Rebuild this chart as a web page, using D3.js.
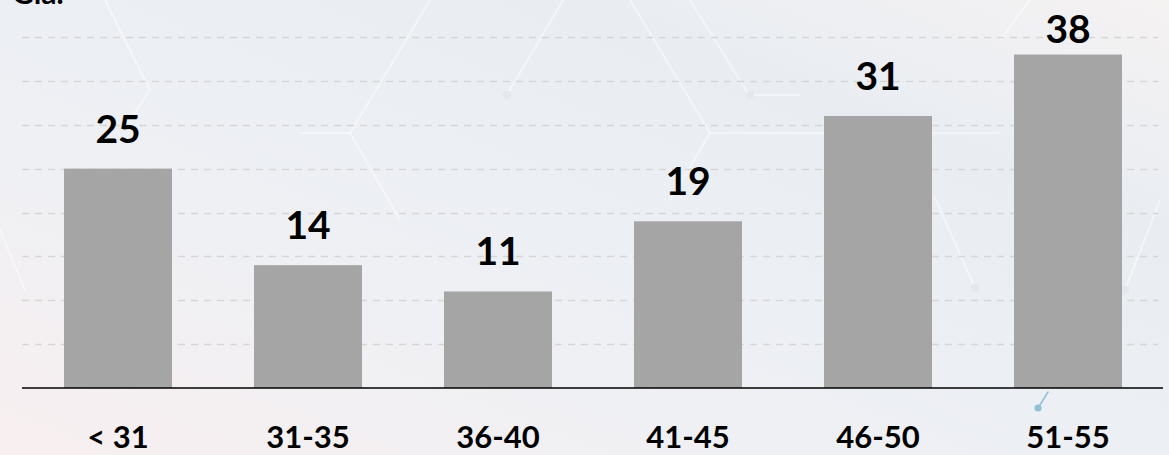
<!DOCTYPE html>
<html>
<head>
<meta charset="utf-8">
<script src="https://cdn.jsdelivr.net/npm/d3@7/dist/d3.min.js"></script>
<style>
  html, body { margin: 0; padding: 0; }
  body { width: 1169px; height: 455px; overflow: hidden; }
  svg { display: block; }
</style>
</head>
<body>
<svg id="chart" width="1169" height="455"></svg>
<script>
const categories = ["< 31", "31-35", "36-40", "41-45", "46-50", "51-55"];
const values = [25, 14, 11, 19, 31, 38];
const gridTicks = [5, 10, 15, 20, 25, 30, 35, 40];

const W = 1169, H = 455;
const svg = d3.select("#chart");
const font = "Lato, 'Open Sans', 'DejaVu Sans', sans-serif";

// background
const defs = svg.append("defs");
const bg = defs.append("linearGradient").attr("id", "bg")
  .attr("x1", "0").attr("y1", "1").attr("x2", "1").attr("y2", "0");
bg.append("stop").attr("offset", "0%").attr("stop-color", "#f8eff0");
bg.append("stop").attr("offset", "35%").attr("stop-color", "#eef0f4");
bg.append("stop").attr("offset", "75%").attr("stop-color", "#e9edf2");
bg.append("stop").attr("offset", "100%").attr("stop-color", "#f5f2f2");
svg.append("rect").attr("width", W).attr("height", H).attr("fill", "url(#bg)");

// faint decorative hexagon lines
const deco = svg.append("g").attr("fill", "none").attr("stroke-linecap", "round");
const decoLines = [
  [[430, 0], [350, 133], [300, 133]],
  [[350, 133], [400, 220]],
  [[563, 0], [507, 95]],
  [[630, 0], [710, 133], [1000, 133]],
  [[690, 0], [749, 95], [800, 95]],
  [[710, 133], [670, 200]],
  [[935, 198], [975, 288]],
  [[1160, 200], [1125, 290]],
  [[1030, 0], [1000, 40]],
  [[105, 0], [150, 90], [130, 120]],
  [[0, 230], [25, 290]]
];
decoLines.forEach(pts => {
  deco.append("path").attr("d", d3.line()(pts))
    .attr("stroke", "#ffffff").attr("stroke-opacity", 0.45).attr("stroke-width", 2);
});
[[507, 95], [750, 95], [975, 288], [1125, 290]].forEach(p => {
  deco.append("circle").attr("cx", p[0]).attr("cy", p[1]).attr("r", 4)
    .attr("fill", "#e2e8ee").attr("stroke", "none");
});
deco.append("path").attr("d", d3.line()([[1048, 392], [1040, 405]]))
  .attr("stroke", "#8fc0d6").attr("stroke-width", 1.5);
deco.append("circle").attr("cx", 1038).attr("cy", 408).attr("r", 3.5)
  .attr("fill", "#8fc0d6").attr("stroke", "none");

const x = d3.scaleBand().domain(categories).range([23, 1163])
  .paddingInner(0.4316).paddingOuter(0.2158);
const y = d3.scaleLinear().domain([0, 40]).range([388, 37]);

// gridlines
svg.append("g").selectAll("line").data(gridTicks).join("line")
  .attr("x1", 22).attr("x2", 1158)
  .attr("y1", d => Math.round(y(d)) + 0.5).attr("y2", d => Math.round(y(d)) + 0.5)
  .attr("stroke", "#d6d6d6").attr("stroke-width", 1.3)
  .attr("stroke-dasharray", "7,6");

// bars
svg.append("g").selectAll("rect").data(values).join("rect")
  .attr("x", (d, i) => x(categories[i]))
  .attr("width", x.bandwidth())
  .attr("y", d => y(d))
  .attr("height", d => y(0) - y(d))
  .attr("fill", "#a5a5a5");

// baseline axis
const xAxis = d3.axisBottom(x).tickSize(0).tickPadding(0);
const ax = svg.append("g").attr("transform", `translate(0,${y(0)})`).call(xAxis);
ax.select(".domain").attr("stroke", "#000").attr("stroke-width", 1.5)
  .attr("d", "M22,0H1163");
ax.selectAll(".tick text")
  .attr("y", 60).attr("dy", 0)
  .attr("font-family", font).attr("font-weight", "bold")
  .attr("font-size", "31px").attr("fill", "#000");

// value labels
svg.append("g").selectAll("text").data(values).join("text")
  .attr("x", (d, i) => x(categories[i]) + x.bandwidth() / 2)
  .attr("y", d => Math.max(y(d) - 26, 43))
  .attr("text-anchor", "middle")
  .attr("font-family", font).attr("font-weight", "bold")
  .attr("font-size", "39px").attr("fill", "#000")
  .text(d => d);

// cut-off title at top-left (partially visible in the reference)
svg.append("text").attr("x", 12).attr("y", 4)
  .attr("font-family", font).attr("font-weight", "bold")
  .attr("font-size", "30px").attr("fill", "#000").text("Gia.");
</script>
</body>
</html>
